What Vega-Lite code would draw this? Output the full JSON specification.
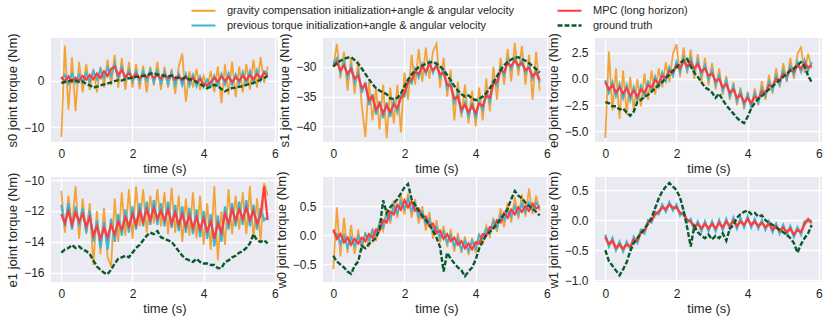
{
"$schema": "https://vega.github.io/schema/vega-lite/v6.json",
"padding": {"left": 6, "top": 5, "right": 4, "bottom": 4},
"background": "white",
"columns": 3,
"spacing": {"row": 35, "column": 45},
"bounds": "flush",
"resolve": {"scale": {"color": "shared", "strokeDash": "shared", "strokeWidth": "shared", "x": "independent", "y": "independent"}, "legend": {"color": "shared", "strokeDash": "shared"}},
"data": {"values": [
{"j":"s0","t":0.0,"g":-12.0,"p":0.3,"m":0.8,"r":-0.5},
{"j":"s0","t":0.1,"g":7.5,"p":1.2,"m":-0.2,"r":-0.3},
{"j":"s0","t":0.2,"g":-6.2,"p":-0.6,"m":0.9,"r":-0.2},
{"j":"s0","t":0.3,"g":5.0,"p":1.4,"m":-0.3,"r":0.1},
{"j":"s0","t":0.4,"g":-6.5,"p":-0.4,"m":0.6,"r":0.0},
{"j":"s0","t":0.5,"g":4.0,"p":1.3,"m":0.0,"r":-0.3},
{"j":"s0","t":0.6,"g":-2.5,"p":-0.3,"m":1.0,"r":-0.2},
{"j":"s0","t":0.7,"g":3.5,"p":1.6,"m":0.2,"r":-0.7},
{"j":"s0","t":0.8,"g":-2.0,"p":-0.2,"m":1.2,"r":-1.0},
{"j":"s0","t":0.9,"g":2.5,"p":2.0,"m":0.3,"r":-1.5},
{"j":"s0","t":1.0,"g":-2.5,"p":0.2,"m":1.5,"r":-1.3},
{"j":"s0","t":1.1,"g":3.0,"p":2.4,"m":0.6,"r":-1.0},
{"j":"s0","t":1.2,"g":-1.5,"p":0.5,"m":2.0,"r":-0.8},
{"j":"s0","t":1.3,"g":4.5,"p":2.8,"m":1.0,"r":-0.6},
{"j":"s0","t":1.4,"g":-1.0,"p":1.0,"m":2.5,"r":-0.4},
{"j":"s0","t":1.5,"g":5.5,"p":3.6,"m":3.0,"r":-0.1},
{"j":"s0","t":1.6,"g":-1.5,"p":0.6,"m":1.2,"r":0.1},
{"j":"s0","t":1.7,"g":4.8,"p":2.8,"m":2.2,"r":0.0},
{"j":"s0","t":1.8,"g":-2.0,"p":0.2,"m":0.8,"r":0.3},
{"j":"s0","t":1.9,"g":4.0,"p":2.2,"m":1.6,"r":0.5},
{"j":"s0","t":2.0,"g":-1.5,"p":0.0,"m":0.6,"r":0.6},
{"j":"s0","t":2.1,"g":3.5,"p":2.0,"m":1.4,"r":0.8},
{"j":"s0","t":2.2,"g":-1.8,"p":-0.2,"m":0.5,"r":0.9},
{"j":"s0","t":2.3,"g":3.2,"p":2.0,"m":1.3,"r":1.0},
{"j":"s0","t":2.4,"g":-2.5,"p":0.0,"m":0.7,"r":1.1},
{"j":"s0","t":2.5,"g":3.0,"p":2.2,"m":1.5,"r":1.5},
{"j":"s0","t":2.6,"g":-1.0,"p":-0.3,"m":0.6,"r":1.6},
{"j":"s0","t":2.7,"g":4.0,"p":2.0,"m":1.2,"r":1.3},
{"j":"s0","t":2.8,"g":-2.0,"p":-0.5,"m":0.4,"r":1.2},
{"j":"s0","t":2.9,"g":3.0,"p":1.8,"m":1.3,"r":1.0},
{"j":"s0","t":3.0,"g":-1.5,"p":-0.6,"m":0.5,"r":0.9},
{"j":"s0","t":3.1,"g":2.5,"p":1.7,"m":1.1,"r":1.1},
{"j":"s0","t":3.2,"g":-2.8,"p":-0.8,"m":0.2,"r":0.7},
{"j":"s0","t":3.3,"g":3.0,"p":1.5,"m":1.0,"r":0.6},
{"j":"s0","t":3.4,"g":5.8,"p":-1.0,"m":0.0,"r":0.4},
{"j":"s0","t":3.5,"g":-4.5,"p":1.4,"m":0.8,"r":0.8},
{"j":"s0","t":3.6,"g":2.0,"p":-1.0,"m":-0.1,"r":0.3},
{"j":"s0","t":3.7,"g":-1.5,"p":1.2,"m":0.6,"r":0.1},
{"j":"s0","t":3.8,"g":2.5,"p":-1.2,"m":-0.3,"r":-0.3},
{"j":"s0","t":3.9,"g":-2.0,"p":0.8,"m":0.3,"r":-0.7},
{"j":"s0","t":4.0,"g":1.0,"p":-1.3,"m":-0.7,"r":-1.2},
{"j":"s0","t":4.1,"g":-1.5,"p":0.2,"m":-1.0,"r":-1.6},
{"j":"s0","t":4.2,"g":2.0,"p":-1.2,"m":-0.3,"r":-1.3},
{"j":"s0","t":4.3,"g":-2.5,"p":1.0,"m":0.6,"r":-0.9},
{"j":"s0","t":4.4,"g":3.0,"p":-0.9,"m":-0.2,"r":-1.2},
{"j":"s0","t":4.5,"g":-4.8,"p":1.4,"m":0.9,"r":-1.8},
{"j":"s0","t":4.6,"g":3.5,"p":-0.8,"m":0.0,"r":-2.3},
{"j":"s0","t":4.7,"g":-3.0,"p":1.5,"m":0.8,"r":-1.9},
{"j":"s0","t":4.8,"g":4.0,"p":-0.8,"m":-0.3,"r":-1.6},
{"j":"s0","t":4.9,"g":-3.5,"p":1.3,"m":0.7,"r":-1.5},
{"j":"s0","t":5.0,"g":3.0,"p":-0.6,"m":0.0,"r":-1.3},
{"j":"s0","t":5.1,"g":-2.5,"p":1.8,"m":1.0,"r":-1.2},
{"j":"s0","t":5.2,"g":3.5,"p":-0.5,"m":0.1,"r":-0.9},
{"j":"s0","t":5.3,"g":-2.0,"p":2.0,"m":1.2,"r":-0.7},
{"j":"s0","t":5.4,"g":4.5,"p":-0.3,"m":0.3,"r":-0.5},
{"j":"s0","t":5.5,"g":-1.5,"p":2.2,"m":1.4,"r":-0.2},
{"j":"s0","t":5.6,"g":5.0,"p":0.0,"m":0.6,"r":0.2},
{"j":"s0","t":5.7,"g":-0.5,"p":2.0,"m":1.6,"r":0.6},
{"j":"s0","t":5.8,"g":3.0,"p":1.5,"m":1.2,"r":1.0},
{"j":"s1","t":0.0,"g":-30.0,"p":-29.5,"m":-30.0,"r":-30.0},
{"j":"s1","t":0.1,"g":-26.2,"p":-28.6,"m":-29.2,"r":-29.4},
{"j":"s1","t":0.2,"g":-32.0,"p":-31.0,"m":-30.6,"r":-29.0},
{"j":"s1","t":0.3,"g":-27.5,"p":-29.2,"m":-29.8,"r":-28.7},
{"j":"s1","t":0.4,"g":-34.0,"p":-31.8,"m":-31.2,"r":-28.5},
{"j":"s1","t":0.5,"g":-28.5,"p":-30.0,"m":-30.4,"r":-28.4},
{"j":"s1","t":0.6,"g":-34.5,"p":-32.6,"m":-32.0,"r":-28.9},
{"j":"s1","t":0.7,"g":-29.0,"p":-31.0,"m":-31.5,"r":-29.5},
{"j":"s1","t":0.8,"g":-36.5,"p":-34.4,"m":-33.6,"r":-30.3},
{"j":"s1","t":0.9,"g":-41.8,"p":-32.6,"m":-33.0,"r":-31.2},
{"j":"s1","t":1.0,"g":-32.5,"p":-36.4,"m":-35.6,"r":-32.1},
{"j":"s1","t":1.1,"g":-39.0,"p":-34.6,"m":-35.0,"r":-32.9},
{"j":"s1","t":1.2,"g":-33.5,"p":-38.0,"m":-37.2,"r":-33.6},
{"j":"s1","t":1.3,"g":-40.5,"p":-35.8,"m":-36.2,"r":-34.0},
{"j":"s1","t":1.4,"g":-33.0,"p":-38.6,"m":-37.8,"r":-34.3},
{"j":"s1","t":1.5,"g":-42.0,"p":-36.0,"m":-36.5,"r":-34.6},
{"j":"s1","t":1.6,"g":-33.5,"p":-38.4,"m":-37.6,"r":-35.3},
{"j":"s1","t":1.7,"g":-39.5,"p":-35.8,"m":-36.3,"r":-35.4},
{"j":"s1","t":1.8,"g":-33.0,"p":-37.6,"m":-36.9,"r":-35.2},
{"j":"s1","t":1.9,"g":-41.0,"p":-34.8,"m":-35.2,"r":-34.5},
{"j":"s1","t":2.0,"g":-31.0,"p":-35.0,"m":-34.4,"r":-33.3},
{"j":"s1","t":2.1,"g":-35.5,"p":-32.2,"m":-32.6,"r":-32.2},
{"j":"s1","t":2.2,"g":-28.0,"p":-32.8,"m":-32.2,"r":-31.3},
{"j":"s1","t":2.3,"g":-33.0,"p":-30.4,"m":-30.9,"r":-30.6},
{"j":"s1","t":2.4,"g":-27.0,"p":-31.8,"m":-31.2,"r":-30.1},
{"j":"s1","t":2.5,"g":-32.5,"p":-29.6,"m":-30.0,"r":-29.8},
{"j":"s1","t":2.6,"g":-26.8,"p":-31.2,"m":-30.8,"r":-29.5},
{"j":"s1","t":2.7,"g":-32.0,"p":-29.2,"m":-29.6,"r":-29.3},
{"j":"s1","t":2.8,"g":-27.5,"p":-31.0,"m":-30.6,"r":-29.2},
{"j":"s1","t":2.9,"g":-26.2,"p":-29.5,"m":-29.9,"r":-29.5},
{"j":"s1","t":3.0,"g":-33.5,"p":-31.8,"m":-31.3,"r":-29.9},
{"j":"s1","t":3.1,"g":-28.5,"p":-30.6,"m":-31.0,"r":-30.6},
{"j":"s1","t":3.2,"g":-35.0,"p":-33.6,"m":-33.0,"r":-31.4},
{"j":"s1","t":3.3,"g":-30.5,"p":-32.6,"m":-33.2,"r":-32.3},
{"j":"s1","t":3.4,"g":-39.0,"p":-36.0,"m":-35.4,"r":-33.2},
{"j":"s1","t":3.5,"g":-32.5,"p":-34.6,"m":-35.0,"r":-34.0},
{"j":"s1","t":3.6,"g":-38.5,"p":-37.8,"m":-37.2,"r":-34.6},
{"j":"s1","t":3.7,"g":-33.0,"p":-36.0,"m":-36.4,"r":-35.0},
{"j":"s1","t":3.8,"g":-39.5,"p":-38.4,"m":-37.6,"r":-34.8},
{"j":"s1","t":3.9,"g":-34.0,"p":-36.0,"m":-36.5,"r":-35.3},
{"j":"s1","t":4.0,"g":-40.0,"p":-38.6,"m":-37.8,"r":-35.6},
{"j":"s1","t":4.1,"g":-33.5,"p":-35.8,"m":-36.2,"r":-35.4},
{"j":"s1","t":4.2,"g":-39.0,"p":-37.2,"m":-36.6,"r":-35.0},
{"j":"s1","t":4.3,"g":-32.0,"p":-34.4,"m":-34.8,"r":-34.4},
{"j":"s1","t":4.4,"g":-37.5,"p":-35.8,"m":-35.2,"r":-33.6},
{"j":"s1","t":4.5,"g":-30.0,"p":-32.4,"m":-32.8,"r":-32.6},
{"j":"s1","t":4.6,"g":-35.5,"p":-33.2,"m":-32.6,"r":-31.6},
{"j":"s1","t":4.7,"g":-28.5,"p":-30.2,"m":-30.6,"r":-30.6},
{"j":"s1","t":4.8,"g":-33.0,"p":-31.4,"m":-30.9,"r":-29.8},
{"j":"s1","t":4.9,"g":-27.0,"p":-29.0,"m":-29.4,"r":-29.2},
{"j":"s1","t":5.0,"g":-32.5,"p":-30.4,"m":-29.9,"r":-28.8},
{"j":"s1","t":5.1,"g":-26.0,"p":-28.6,"m":-29.0,"r":-28.5},
{"j":"s1","t":5.2,"g":-31.5,"p":-30.2,"m":-29.8,"r":-28.4},
{"j":"s1","t":5.3,"g":-26.5,"p":-29.0,"m":-29.4,"r":-28.7},
{"j":"s1","t":5.4,"g":-33.0,"p":-31.0,"m":-30.6,"r":-29.0},
{"j":"s1","t":5.5,"g":-28.0,"p":-29.8,"m":-30.2,"r":-29.4},
{"j":"s1","t":5.6,"g":-35.5,"p":-32.0,"m":-31.6,"r":-29.9},
{"j":"s1","t":5.7,"g":-27.5,"p":-30.6,"m":-31.0,"r":-30.4},
{"j":"s1","t":5.8,"g":-34.0,"p":-32.6,"m":-32.2,"r":-31.0},
{"j":"e0","t":0.0,"g":-5.6,"p":-0.1,"m":-0.3,"r":-2.2},
{"j":"e0","t":0.1,"g":2.6,"p":-1.3,"m":-1.0,"r":-2.3},
{"j":"e0","t":0.2,"g":-3.0,"p":-0.3,"m":-0.6,"r":-2.6},
{"j":"e0","t":0.3,"g":1.0,"p":-1.6,"m":-1.3,"r":-2.6},
{"j":"e0","t":0.4,"g":-3.8,"p":-0.5,"m":-0.8,"r":-2.9},
{"j":"e0","t":0.5,"g":0.8,"p":-1.8,"m":-1.4,"r":-2.8},
{"j":"e0","t":0.6,"g":-3.4,"p":-0.6,"m":-0.9,"r":-3.2},
{"j":"e0","t":0.7,"g":0.2,"p":-2.0,"m":-1.6,"r":-3.5},
{"j":"e0","t":0.8,"g":-3.0,"p":-0.8,"m":-1.1,"r":-3.1},
{"j":"e0","t":0.9,"g":0.0,"p":-2.0,"m":-1.7,"r":-2.2},
{"j":"e0","t":1.0,"g":-2.6,"p":-0.7,"m":-1.0,"r":-2.0},
{"j":"e0","t":1.1,"g":0.5,"p":-1.6,"m":-1.3,"r":-1.7},
{"j":"e0","t":1.2,"g":-2.0,"p":-0.3,"m":-0.6,"r":-1.5},
{"j":"e0","t":1.3,"g":0.8,"p":-1.1,"m":-0.8,"r":-1.2},
{"j":"e0","t":1.4,"g":-1.5,"p":0.2,"m":-0.1,"r":-0.9},
{"j":"e0","t":1.5,"g":1.0,"p":-0.7,"m":-0.4,"r":-0.6},
{"j":"e0","t":1.6,"g":-0.8,"p":0.6,"m":0.3,"r":-0.3},
{"j":"e0","t":1.7,"g":1.6,"p":-0.2,"m":0.1,"r":0.1},
{"j":"e0","t":1.8,"g":-0.3,"p":1.1,"m":0.8,"r":0.4},
{"j":"e0","t":1.9,"g":2.4,"p":0.3,"m":0.6,"r":0.8},
{"j":"e0","t":2.0,"g":3.3,"p":1.6,"m":1.3,"r":1.1},
{"j":"e0","t":2.1,"g":0.2,"p":0.7,"m":1.0,"r":1.5},
{"j":"e0","t":2.2,"g":3.0,"p":2.0,"m":1.7,"r":1.8},
{"j":"e0","t":2.3,"g":0.5,"p":0.9,"m":1.2,"r":1.9},
{"j":"e0","t":2.4,"g":2.8,"p":1.9,"m":1.6,"r":1.2},
{"j":"e0","t":2.5,"g":0.0,"p":0.7,"m":1.0,"r":0.6},
{"j":"e0","t":2.6,"g":2.4,"p":1.7,"m":1.4,"r":0.2},
{"j":"e0","t":2.7,"g":-0.3,"p":0.4,"m":0.7,"r":-0.3},
{"j":"e0","t":2.8,"g":2.0,"p":1.3,"m":1.0,"r":-0.8},
{"j":"e0","t":2.9,"g":-0.6,"p":0.0,"m":0.3,"r":-1.0},
{"j":"e0","t":3.0,"g":1.5,"p":0.8,"m":0.5,"r":-1.3},
{"j":"e0","t":3.1,"g":-1.0,"p":-0.5,"m":-0.2,"r":-1.8},
{"j":"e0","t":3.2,"g":1.0,"p":0.3,"m":0.0,"r":-1.4},
{"j":"e0","t":3.3,"g":-1.5,"p":-1.1,"m":-0.8,"r":-2.0},
{"j":"e0","t":3.4,"g":0.3,"p":-0.2,"m":-0.5,"r":-2.5},
{"j":"e0","t":3.5,"g":-2.0,"p":-1.6,"m":-1.3,"r":-2.9},
{"j":"e0","t":3.6,"g":-0.3,"p":-0.7,"m":-1.0,"r":-3.3},
{"j":"e0","t":3.7,"g":-2.5,"p":-2.1,"m":-1.8,"r":-3.7},
{"j":"e0","t":3.8,"g":-0.8,"p":-1.2,"m":-1.5,"r":-4.0},
{"j":"e0","t":3.9,"g":-2.9,"p":-2.5,"m":-2.2,"r":-4.2},
{"j":"e0","t":4.0,"g":-1.2,"p":-1.5,"m":-1.8,"r":-3.6},
{"j":"e0","t":4.1,"g":-2.8,"p":-2.6,"m":-2.3,"r":-2.8},
{"j":"e0","t":4.2,"g":-0.9,"p":-1.4,"m":-1.7,"r":-2.3},
{"j":"e0","t":4.3,"g":-2.5,"p":-2.2,"m":-1.9,"r":-1.9},
{"j":"e0","t":4.4,"g":-0.2,"p":-0.9,"m":-1.2,"r":-1.6},
{"j":"e0","t":4.5,"g":-2.0,"p":-1.6,"m":-1.3,"r":-1.3},
{"j":"e0","t":4.6,"g":0.4,"p":-0.3,"m":-0.6,"r":-1.0},
{"j":"e0","t":4.7,"g":-1.4,"p":-1.0,"m":-0.7,"r":-0.7},
{"j":"e0","t":4.8,"g":1.0,"p":0.3,"m":0.0,"r":-0.4},
{"j":"e0","t":4.9,"g":-0.8,"p":-0.5,"m":-0.2,"r":-0.1},
{"j":"e0","t":5.0,"g":1.5,"p":0.8,"m":0.5,"r":0.2},
{"j":"e0","t":5.1,"g":-0.3,"p":0.0,"m":0.3,"r":0.5},
{"j":"e0","t":5.2,"g":2.0,"p":1.2,"m":0.9,"r":0.8},
{"j":"e0","t":5.3,"g":0.0,"p":0.4,"m":0.7,"r":1.0},
{"j":"e0","t":5.4,"g":2.4,"p":1.6,"m":1.3,"r":1.3},
{"j":"e0","t":5.5,"g":3.0,"p":0.7,"m":1.0,"r":1.6},
{"j":"e0","t":5.6,"g":0.6,"p":1.8,"m":1.5,"r":1.2},
{"j":"e0","t":5.7,"g":2.4,"p":0.8,"m":1.1,"r":0.3},
{"j":"e0","t":5.8,"g":1.0,"p":1.6,"m":1.3,"r":-0.3},
{"j":"e1","t":0.0,"g":-10.7,"p":-11.6,"m":-12.2,"r":-14.7},
{"j":"e1","t":0.1,"g":-13.4,"p":-13.0,"m":-12.8,"r":-14.5},
{"j":"e1","t":0.2,"g":-11.0,"p":-11.5,"m":-12.0,"r":-14.4},
{"j":"e1","t":0.3,"g":-13.0,"p":-13.2,"m":-12.9,"r":-14.2},
{"j":"e1","t":0.4,"g":-10.4,"p":-11.7,"m":-12.1,"r":-14.4},
{"j":"e1","t":0.5,"g":-13.8,"p":-13.0,"m":-12.7,"r":-14.3},
{"j":"e1","t":0.6,"g":-11.2,"p":-11.8,"m":-12.2,"r":-14.5},
{"j":"e1","t":0.7,"g":-13.5,"p":-13.4,"m":-13.0,"r":-14.6},
{"j":"e1","t":0.8,"g":-11.5,"p":-12.0,"m":-12.4,"r":-14.8},
{"j":"e1","t":0.9,"g":-15.5,"p":-14.0,"m":-13.6,"r":-15.2},
{"j":"e1","t":1.0,"g":-12.0,"p":-12.6,"m":-13.0,"r":-15.6},
{"j":"e1","t":1.1,"g":-14.8,"p":-14.4,"m":-13.8,"r":-15.8},
{"j":"e1","t":1.2,"g":-11.8,"p":-12.7,"m":-13.1,"r":-16.0},
{"j":"e1","t":1.3,"g":-15.0,"p":-14.5,"m":-13.7,"r":-16.1},
{"j":"e1","t":1.4,"g":-15.6,"p":-12.5,"m":-12.9,"r":-15.8},
{"j":"e1","t":1.5,"g":-11.2,"p":-14.0,"m":-13.5,"r":-15.4},
{"j":"e1","t":1.6,"g":-14.0,"p":-12.2,"m":-12.7,"r":-15.1},
{"j":"e1","t":1.7,"g":-10.8,"p":-13.6,"m":-13.2,"r":-15.0},
{"j":"e1","t":1.8,"g":-13.6,"p":-11.9,"m":-12.4,"r":-14.9},
{"j":"e1","t":1.9,"g":-10.6,"p":-13.4,"m":-13.0,"r":-15.0},
{"j":"e1","t":2.0,"g":-13.8,"p":-11.7,"m":-12.2,"r":-14.7},
{"j":"e1","t":2.1,"g":-10.4,"p":-13.2,"m":-12.9,"r":-14.4},
{"j":"e1","t":2.2,"g":-13.0,"p":-11.5,"m":-12.0,"r":-14.2},
{"j":"e1","t":2.3,"g":-10.6,"p":-13.0,"m":-12.7,"r":-13.9},
{"j":"e1","t":2.4,"g":-13.4,"p":-11.4,"m":-11.9,"r":-13.6},
{"j":"e1","t":2.5,"g":-11.0,"p":-12.9,"m":-12.6,"r":-13.4},
{"j":"e1","t":2.6,"g":-12.8,"p":-11.3,"m":-11.8,"r":-13.5},
{"j":"e1","t":2.7,"g":-10.6,"p":-12.9,"m":-12.5,"r":-13.3},
{"j":"e1","t":2.8,"g":-13.0,"p":-11.5,"m":-12.0,"r":-13.7},
{"j":"e1","t":2.9,"g":-10.8,"p":-13.0,"m":-12.6,"r":-13.8},
{"j":"e1","t":3.0,"g":-13.5,"p":-11.4,"m":-11.9,"r":-13.9},
{"j":"e1","t":3.1,"g":-10.5,"p":-13.1,"m":-12.8,"r":-14.0},
{"j":"e1","t":3.2,"g":-13.4,"p":-11.6,"m":-12.1,"r":-14.3},
{"j":"e1","t":3.3,"g":-11.0,"p":-13.3,"m":-12.9,"r":-14.6},
{"j":"e1","t":3.4,"g":-14.0,"p":-11.7,"m":-12.2,"r":-14.9},
{"j":"e1","t":3.5,"g":-11.2,"p":-13.4,"m":-13.0,"r":-15.1},
{"j":"e1","t":3.6,"g":-13.6,"p":-11.8,"m":-12.3,"r":-15.2},
{"j":"e1","t":3.7,"g":-10.8,"p":-13.5,"m":-13.1,"r":-15.3},
{"j":"e1","t":3.8,"g":-13.8,"p":-11.9,"m":-12.4,"r":-15.1},
{"j":"e1","t":3.9,"g":-11.0,"p":-13.7,"m":-13.2,"r":-15.3},
{"j":"e1","t":4.0,"g":-14.2,"p":-12.0,"m":-12.5,"r":-15.4},
{"j":"e1","t":4.1,"g":-11.5,"p":-13.8,"m":-13.3,"r":-15.4},
{"j":"e1","t":4.2,"g":-14.5,"p":-12.2,"m":-12.7,"r":-15.5},
{"j":"e1","t":4.3,"g":-10.4,"p":-14.3,"m":-13.8,"r":-15.5},
{"j":"e1","t":4.4,"g":-15.2,"p":-12.3,"m":-12.8,"r":-15.7},
{"j":"e1","t":4.5,"g":-12.0,"p":-14.0,"m":-13.4,"r":-15.7},
{"j":"e1","t":4.6,"g":-14.2,"p":-11.7,"m":-12.2,"r":-15.3},
{"j":"e1","t":4.7,"g":-10.6,"p":-13.2,"m":-12.8,"r":-15.2},
{"j":"e1","t":4.8,"g":-13.5,"p":-11.5,"m":-11.9,"r":-15.0},
{"j":"e1","t":4.9,"g":-11.0,"p":-13.0,"m":-12.6,"r":-14.9},
{"j":"e1","t":5.0,"g":-13.2,"p":-11.4,"m":-11.9,"r":-14.7},
{"j":"e1","t":5.1,"g":-10.8,"p":-12.9,"m":-12.5,"r":-14.6},
{"j":"e1","t":5.2,"g":-13.5,"p":-11.3,"m":-11.8,"r":-14.4},
{"j":"e1","t":5.3,"g":-10.4,"p":-13.0,"m":-12.6,"r":-14.1},
{"j":"e1","t":5.4,"g":-13.8,"p":-11.6,"m":-12.0,"r":-13.5},
{"j":"e1","t":5.5,"g":-11.2,"p":-13.2,"m":-12.8,"r":-13.9},
{"j":"e1","t":5.6,"g":-14.0,"p":-11.8,"m":-12.3,"r":-14.0},
{"j":"e1","t":5.7,"g":-10.2,"p":-12.6,"m":-10.4,"r":-13.9},
{"j":"e1","t":5.8,"g":-11.0,"p":-12.4,"m":-12.6,"r":-14.1},
{"j":"w0","t":0.0,"g":-0.58,"p":0.06,"m":0.1,"r":-0.35},
{"j":"w0","t":0.1,"g":0.48,"p":0.02,"m":-0.06,"r":-0.45},
{"j":"w0","t":0.2,"g":-0.36,"p":-0.14,"m":0.02,"r":-0.5},
{"j":"w0","t":0.3,"g":0.3,"p":0.0,"m":-0.12,"r":-0.55},
{"j":"w0","t":0.4,"g":-0.3,"p":-0.2,"m":-0.04,"r":-0.62},
{"j":"w0","t":0.5,"g":0.18,"p":-0.04,"m":-0.16,"r":-0.66},
{"j":"w0","t":0.6,"g":-0.32,"p":-0.18,"m":-0.06,"r":-0.52},
{"j":"w0","t":0.7,"g":0.1,"p":-0.02,"m":-0.14,"r":-0.45},
{"j":"w0","t":0.8,"g":-0.26,"p":-0.16,"m":-0.04,"r":-0.18},
{"j":"w0","t":0.9,"g":0.06,"p":0.02,"m":-0.1,"r":-0.22},
{"j":"w0","t":1.0,"g":-0.2,"p":-0.08,"m":0.02,"r":-0.15},
{"j":"w0","t":1.1,"g":0.12,"p":0.08,"m":-0.04,"r":-0.1},
{"j":"w0","t":1.2,"g":-0.1,"p":0.0,"m":0.1,"r":-0.04},
{"j":"w0","t":1.3,"g":0.22,"p":0.2,"m":0.08,"r":0.1},
{"j":"w0","t":1.4,"g":0.08,"p":0.14,"m":0.26,"r":0.6},
{"j":"w0","t":1.5,"g":0.46,"p":0.36,"m":0.22,"r":0.38},
{"j":"w0","t":1.6,"g":0.2,"p":0.28,"m":0.4,"r":0.48},
{"j":"w0","t":1.7,"g":0.6,"p":0.5,"m":0.36,"r":0.55},
{"j":"w0","t":1.8,"g":0.3,"p":0.38,"m":0.52,"r":0.62},
{"j":"w0","t":1.9,"g":0.7,"p":0.58,"m":0.44,"r":0.72},
{"j":"w0","t":2.0,"g":0.36,"p":0.46,"m":0.6,"r":0.82},
{"j":"w0","t":2.1,"g":0.72,"p":0.62,"m":0.48,"r":0.88},
{"j":"w0","t":2.2,"g":0.3,"p":0.42,"m":0.58,"r":0.62},
{"j":"w0","t":2.3,"g":0.62,"p":0.54,"m":0.42,"r":0.52},
{"j":"w0","t":2.4,"g":0.2,"p":0.32,"m":0.46,"r":0.42},
{"j":"w0","t":2.5,"g":0.5,"p":0.4,"m":0.3,"r":0.34},
{"j":"w0","t":2.6,"g":0.08,"p":0.2,"m":0.32,"r":0.26},
{"j":"w0","t":2.7,"g":0.4,"p":0.28,"m":0.16,"r":0.18},
{"j":"w0","t":2.8,"g":-0.06,"p":0.06,"m":0.2,"r":0.08},
{"j":"w0","t":2.9,"g":0.26,"p":0.14,"m":0.04,"r":-0.04},
{"j":"w0","t":3.0,"g":-0.12,"p":-0.04,"m":0.08,"r":-0.2},
{"j":"w0","t":3.1,"g":0.16,"p":0.06,"m":-0.06,"r":-0.62},
{"j":"w0","t":3.2,"g":-0.2,"p":-0.12,"m":0.02,"r":-0.3},
{"j":"w0","t":3.3,"g":0.1,"p":0.0,"m":-0.1,"r":-0.4},
{"j":"w0","t":3.4,"g":-0.28,"p":-0.18,"m":-0.04,"r":-0.48},
{"j":"w0","t":3.5,"g":0.04,"p":-0.06,"m":-0.16,"r":-0.55},
{"j":"w0","t":3.6,"g":-0.3,"p":-0.24,"m":-0.1,"r":-0.6},
{"j":"w0","t":3.7,"g":-0.02,"p":-0.1,"m":-0.22,"r":-0.7},
{"j":"w0","t":3.8,"g":-0.34,"p":-0.26,"m":-0.14,"r":-0.62},
{"j":"w0","t":3.9,"g":-0.04,"p":-0.1,"m":-0.24,"r":-0.55},
{"j":"w0","t":4.0,"g":-0.3,"p":-0.22,"m":-0.12,"r":-0.42},
{"j":"w0","t":4.1,"g":0.04,"p":0.0,"m":-0.14,"r":-0.22},
{"j":"w0","t":4.2,"g":-0.16,"p":-0.06,"m":0.02,"r":-0.1},
{"j":"w0","t":4.3,"g":0.16,"p":0.12,"m":0.0,"r":0.0},
{"j":"w0","t":4.4,"g":-0.02,"p":0.04,"m":0.14,"r":0.06},
{"j":"w0","t":4.5,"g":0.3,"p":0.24,"m":0.12,"r":0.12},
{"j":"w0","t":4.6,"g":0.06,"p":0.14,"m":0.26,"r":0.2},
{"j":"w0","t":4.7,"g":0.46,"p":0.34,"m":0.22,"r":0.28},
{"j":"w0","t":4.8,"g":0.14,"p":0.26,"m":0.38,"r":0.36},
{"j":"w0","t":4.9,"g":0.56,"p":0.42,"m":0.3,"r":0.46},
{"j":"w0","t":5.0,"g":0.22,"p":0.32,"m":0.44,"r":0.62},
{"j":"w0","t":5.1,"g":0.66,"p":0.5,"m":0.36,"r":0.76},
{"j":"w0","t":5.2,"g":0.28,"p":0.36,"m":0.48,"r":0.68},
{"j":"w0","t":5.3,"g":0.7,"p":0.54,"m":0.4,"r":0.64},
{"j":"w0","t":5.4,"g":0.32,"p":0.4,"m":0.5,"r":0.56},
{"j":"w0","t":5.5,"g":0.8,"p":0.56,"m":0.42,"r":0.5},
{"j":"w0","t":5.6,"g":0.36,"p":0.44,"m":0.54,"r":0.46},
{"j":"w0","t":5.7,"g":0.68,"p":0.56,"m":0.46,"r":0.4},
{"j":"w0","t":5.8,"g":0.42,"p":0.46,"m":0.5,"r":0.34},
{"j":"w1","t":0.0,"g":-0.3,"p":-0.24,"m":-0.28,"r":-0.5},
{"j":"w1","t":0.1,"g":-0.42,"p":-0.44,"m":-0.4,"r":-0.68},
{"j":"w1","t":0.2,"g":-0.36,"p":-0.3,"m":-0.34,"r":-0.76},
{"j":"w1","t":0.3,"g":-0.5,"p":-0.5,"m":-0.46,"r":-0.84},
{"j":"w1","t":0.4,"g":-0.42,"p":-0.36,"m":-0.4,"r":-0.92},
{"j":"w1","t":0.5,"g":-0.5,"p":-0.52,"m":-0.48,"r":-0.82},
{"j":"w1","t":0.6,"g":-0.42,"p":-0.36,"m":-0.4,"r":-0.7},
{"j":"w1","t":0.7,"g":-0.46,"p":-0.48,"m":-0.44,"r":-0.52},
{"j":"w1","t":0.8,"g":-0.34,"p":-0.28,"m":-0.32,"r":-0.38},
{"j":"w1","t":0.9,"g":-0.36,"p":-0.38,"m":-0.34,"r":-0.3},
{"j":"w1","t":1.0,"g":-0.22,"p":-0.16,"m":-0.2,"r":-0.22},
{"j":"w1","t":1.1,"g":-0.2,"p":-0.22,"m":-0.18,"r":-0.14},
{"j":"w1","t":1.2,"g":-0.06,"p":0.0,"m":-0.04,"r":-0.06},
{"j":"w1","t":1.3,"g":-0.02,"p":-0.04,"m":0.0,"r":0.04},
{"j":"w1","t":1.4,"g":0.08,"p":0.14,"m":0.1,"r":0.2},
{"j":"w1","t":1.5,"g":0.12,"p":0.1,"m":0.14,"r":0.36},
{"j":"w1","t":1.6,"g":0.2,"p":0.26,"m":0.22,"r":0.48},
{"j":"w1","t":1.7,"g":0.2,"p":0.14,"m":0.18,"r":0.56},
{"j":"w1","t":1.8,"g":0.28,"p":0.3,"m":0.26,"r":0.62},
{"j":"w1","t":1.9,"g":0.22,"p":0.16,"m":0.2,"r":0.56},
{"j":"w1","t":2.0,"g":0.2,"p":0.26,"m":0.22,"r":0.5},
{"j":"w1","t":2.1,"g":0.14,"p":0.08,"m":0.12,"r":0.38},
{"j":"w1","t":2.2,"g":0.08,"p":0.14,"m":0.1,"r":0.16},
{"j":"w1","t":2.3,"g":0.02,"p":-0.04,"m":0.0,"r":-0.12},
{"j":"w1","t":2.4,"g":-0.04,"p":0.02,"m":-0.02,"r":-0.44},
{"j":"w1","t":2.5,"g":-0.1,"p":-0.16,"m":-0.12,"r":-0.1},
{"j":"w1","t":2.6,"g":-0.08,"p":-0.02,"m":-0.06,"r":-0.2},
{"j":"w1","t":2.7,"g":-0.12,"p":-0.18,"m":-0.14,"r":-0.26},
{"j":"w1","t":2.8,"g":-0.08,"p":-0.02,"m":-0.06,"r":-0.3},
{"j":"w1","t":2.9,"g":-0.12,"p":-0.18,"m":-0.14,"r":-0.24},
{"j":"w1","t":3.0,"g":-0.08,"p":-0.02,"m":-0.06,"r":-0.32},
{"j":"w1","t":3.1,"g":-0.12,"p":-0.18,"m":-0.14,"r":-0.26},
{"j":"w1","t":3.2,"g":-0.06,"p":0.0,"m":-0.04,"r":-0.3},
{"j":"w1","t":3.3,"g":-0.1,"p":-0.16,"m":-0.12,"r":-0.22},
{"j":"w1","t":3.4,"g":-0.04,"p":0.02,"m":-0.02,"r":-0.34},
{"j":"w1","t":3.5,"g":-0.08,"p":-0.14,"m":-0.1,"r":-0.14},
{"j":"w1","t":3.6,"g":-0.02,"p":0.04,"m":0.0,"r":-0.08},
{"j":"w1","t":3.7,"g":-0.08,"p":-0.14,"m":-0.1,"r":0.04},
{"j":"w1","t":3.8,"g":-0.04,"p":0.04,"m":-0.02,"r":0.1},
{"j":"w1","t":3.9,"g":-0.06,"p":-0.12,"m":-0.08,"r":0.14},
{"j":"w1","t":4.0,"g":0.0,"p":0.06,"m":0.02,"r":0.16},
{"j":"w1","t":4.1,"g":-0.06,"p":-0.12,"m":-0.08,"r":0.1},
{"j":"w1","t":4.2,"g":-0.04,"p":0.02,"m":-0.02,"r":0.12},
{"j":"w1","t":4.3,"g":-0.08,"p":-0.14,"m":-0.1,"r":0.06},
{"j":"w1","t":4.4,"g":-0.06,"p":0.0,"m":-0.04,"r":0.08},
{"j":"w1","t":4.5,"g":-0.1,"p":-0.16,"m":-0.12,"r":0.0},
{"j":"w1","t":4.6,"g":-0.08,"p":-0.02,"m":-0.06,"r":-0.04},
{"j":"w1","t":4.7,"g":-0.14,"p":-0.2,"m":-0.16,"r":-0.08},
{"j":"w1","t":4.8,"g":-0.12,"p":-0.06,"m":-0.1,"r":-0.12},
{"j":"w1","t":4.9,"g":-0.16,"p":-0.22,"m":-0.18,"r":-0.16},
{"j":"w1","t":5.0,"g":-0.14,"p":-0.08,"m":-0.12,"r":-0.2},
{"j":"w1","t":5.1,"g":-0.18,"p":-0.24,"m":-0.2,"r":-0.24},
{"j":"w1","t":5.2,"g":-0.16,"p":-0.1,"m":-0.14,"r":-0.3},
{"j":"w1","t":5.3,"g":-0.22,"p":-0.28,"m":-0.24,"r":-0.38},
{"j":"w1","t":5.4,"g":-0.18,"p":-0.12,"m":-0.16,"r":-0.54},
{"j":"w1","t":5.5,"g":-0.18,"p":-0.24,"m":-0.2,"r":-0.4},
{"j":"w1","t":5.6,"g":-0.08,"p":-0.02,"m":-0.06,"r":-0.3},
{"j":"w1","t":5.7,"g":0.0,"p":-0.02,"m":0.02,"r":-0.22},
{"j":"w1","t":5.8,"g":-0.06,"p":0.0,"m":-0.04,"r":-0.08}
]},
"concat": [
{"width":227,"height":104,"transform":[{"filter":"datum.j==='s0'"},{"fold":["g","p","m","r"],"as":["k","v"]}],"mark":{"type":"line","clip":true},"encoding":{"x":{"field":"t","type":"quantitative","scale":{"domain":[-0.29,6.09],"nice":false,"zero":false},"axis":{"values":[0,2,4,6],"title":"time (s)"}},"y":{"field":"v","type":"quantitative","scale":{"domain":[-13.1,9.1],"nice":false,"zero":false},"axis":{"values":[-10,0],"title":"s0 joint torque (Nm)"}},"color":{"field":"k","type":"nominal","title":null,"scale":{"domain":["g","m","p","r"],"range":["#f5a236","#ff3b3b","#3db8d6","#0b5a2c"]},"legend":{"orient":"none","legendX":147,"legendY":-33,"columns":2,"direction":"horizontal","padding":0,"symbolType":"M-3,0H3","symbolSize":64,"symbolStrokeWidth":2,"labelFont":"Liberation Sans","labelFontSize":11,"labelColor":"#262626","labelLimit":400,"labelOffset":18,"rowPadding":3,"columnPadding":37,"labelExpr":"datum.value == 'g' ? 'gravity compensation initialization+angle & angular velocity' : datum.value == 'p' ? 'previous torque initialization+angle & angular velocity' : datum.value == 'm' ? 'MPC (long horizon)' : 'ground truth'"}},"strokeDash":{"field":"k","type":"nominal","title":null,"scale":{"domain":["g","m","p","r"],"range":[[1,0],[1,0],[1,0],[5,2]]},"legend":{"orient":"none","legendX":147,"legendY":-33,"columns":2,"direction":"horizontal","padding":0,"symbolType":"M-3,0H3","symbolSize":64,"symbolStrokeWidth":2,"labelFont":"Liberation Sans","labelFontSize":11,"labelColor":"#262626","labelLimit":400,"labelOffset":18,"rowPadding":3,"columnPadding":37,"labelExpr":"datum.value == 'g' ? 'gravity compensation initialization+angle & angular velocity' : datum.value == 'p' ? 'previous torque initialization+angle & angular velocity' : datum.value == 'm' ? 'MPC (long horizon)' : 'ground truth'"}},"strokeWidth":{"field":"k","type":"nominal","legend":null,"scale":{"type":"ordinal","domain":["g","m","p","r"],"range":[1.8,2.2,2.2,2.4]}}}},
{"width":227,"height":104,"transform":[{"filter":"datum.j==='s1'"},{"fold":["g","p","m","r"],"as":["k","v"]}],"mark":{"type":"line","clip":true},"encoding":{"x":{"field":"t","type":"quantitative","scale":{"domain":[-0.29,6.09],"nice":false,"zero":false},"axis":{"values":[0,2,4,6],"title":"time (s)"}},"y":{"field":"v","type":"quantitative","scale":{"domain":[-42.6,-25.2],"nice":false,"zero":false},"axis":{"values":[-40,-35,-30],"title":"s1 joint torque (Nm)"}},"color":{"field":"k","type":"nominal","title":null,"scale":{"domain":["g","m","p","r"],"range":["#f5a236","#ff3b3b","#3db8d6","#0b5a2c"]}},"strokeDash":{"field":"k","type":"nominal","title":null,"scale":{"domain":["g","m","p","r"],"range":[[1,0],[1,0],[1,0],[5,2]]}},"strokeWidth":{"field":"k","type":"nominal","legend":null,"scale":{"type":"ordinal","domain":["g","m","p","r"],"range":[1.8,2.2,2.2,2.4]}}}},
{"width":227,"height":104,"transform":[{"filter":"datum.j==='e0'"},{"fold":["g","p","m","r"],"as":["k","v"]}],"mark":{"type":"line","clip":true},"encoding":{"x":{"field":"t","type":"quantitative","scale":{"domain":[-0.29,6.09],"nice":false,"zero":false},"axis":{"values":[0,2,4,6],"title":"time (s)"}},"y":{"field":"v","type":"quantitative","scale":{"domain":[-6.0,3.9],"nice":false,"zero":false},"axis":{"values":[-5,-2.5,0,2.5],"format":".1f","title":"e0 joint torque (Nm)"}},"color":{"field":"k","type":"nominal","title":null,"scale":{"domain":["g","m","p","r"],"range":["#f5a236","#ff3b3b","#3db8d6","#0b5a2c"]}},"strokeDash":{"field":"k","type":"nominal","title":null,"scale":{"domain":["g","m","p","r"],"range":[[1,0],[1,0],[1,0],[5,2]]}},"strokeWidth":{"field":"k","type":"nominal","legend":null,"scale":{"type":"ordinal","domain":["g","m","p","r"],"range":[1.8,2.2,2.2,2.4]}}}},
{"width":227,"height":105,"transform":[{"filter":"datum.j==='e1'"},{"fold":["g","p","m","r"],"as":["k","v"]}],"mark":{"type":"line","clip":true},"encoding":{"x":{"field":"t","type":"quantitative","scale":{"domain":[-0.29,6.09],"nice":false,"zero":false},"axis":{"values":[0,2,4,6],"title":"time (s)"}},"y":{"field":"v","type":"quantitative","scale":{"domain":[-16.6,-9.8],"nice":false,"zero":false},"axis":{"values":[-16,-14,-12,-10],"title":"e1 joint torque (Nm)"}},"color":{"field":"k","type":"nominal","title":null,"scale":{"domain":["g","m","p","r"],"range":["#f5a236","#ff3b3b","#3db8d6","#0b5a2c"]}},"strokeDash":{"field":"k","type":"nominal","title":null,"scale":{"domain":["g","m","p","r"],"range":[[1,0],[1,0],[1,0],[5,2]]}},"strokeWidth":{"field":"k","type":"nominal","legend":null,"scale":{"type":"ordinal","domain":["g","m","p","r"],"range":[1.8,2.2,2.2,2.4]}}}},
{"width":227,"height":105,"transform":[{"filter":"datum.j==='w0'"},{"fold":["g","p","m","r"],"as":["k","v"]}],"mark":{"type":"line","clip":true},"encoding":{"x":{"field":"t","type":"quantitative","scale":{"domain":[-0.29,6.09],"nice":false,"zero":false},"axis":{"values":[0,2,4,6],"title":"time (s)"}},"y":{"field":"v","type":"quantitative","scale":{"domain":[-0.8,1.0],"nice":false,"zero":false},"axis":{"values":[-0.5,0,0.5],"format":".1f","title":"w0 joint torque (Nm)"}},"color":{"field":"k","type":"nominal","title":null,"scale":{"domain":["g","m","p","r"],"range":["#f5a236","#ff3b3b","#3db8d6","#0b5a2c"]}},"strokeDash":{"field":"k","type":"nominal","title":null,"scale":{"domain":["g","m","p","r"],"range":[[1,0],[1,0],[1,0],[5,2]]}},"strokeWidth":{"field":"k","type":"nominal","legend":null,"scale":{"type":"ordinal","domain":["g","m","p","r"],"range":[1.8,2.2,2.2,2.4]}}}},
{"width":227,"height":105,"transform":[{"filter":"datum.j==='w1'"},{"fold":["g","p","m","r"],"as":["k","v"]}],"mark":{"type":"line","clip":true},"encoding":{"x":{"field":"t","type":"quantitative","scale":{"domain":[-0.29,6.09],"nice":false,"zero":false},"axis":{"values":[0,2,4,6],"title":"time (s)"}},"y":{"field":"v","type":"quantitative","scale":{"domain":[-1.03,0.72],"nice":false,"zero":false},"axis":{"values":[-1,-0.5,0,0.5],"format":".1f","title":"w1 joint torque (Nm)"}},"color":{"field":"k","type":"nominal","title":null,"scale":{"domain":["g","m","p","r"],"range":["#f5a236","#ff3b3b","#3db8d6","#0b5a2c"]}},"strokeDash":{"field":"k","type":"nominal","title":null,"scale":{"domain":["g","m","p","r"],"range":[[1,0],[1,0],[1,0],[5,2]]}},"strokeWidth":{"field":"k","type":"nominal","legend":null,"scale":{"type":"ordinal","domain":["g","m","p","r"],"range":[1.8,2.2,2.2,2.4]}}}}
],
"config": {
"font": "Liberation Sans",
"view": {"fill": "#eaeaf2", "stroke": null},
"axis": {"grid": true, "gridColor": "#ffffff", "gridWidth": 1.3, "domain": false, "ticks": false, "labelFont": "Liberation Sans", "labelFontSize": 12, "labelColor": "#262626", "labelPadding": 7, "titleFont": "Liberation Sans", "titleFontSize": 13, "titleFontWeight": "normal", "titleColor": "#262626", "titlePadding": 4},
"axisX": {"labelPadding": 6, "titlePadding": 3}
}
}
